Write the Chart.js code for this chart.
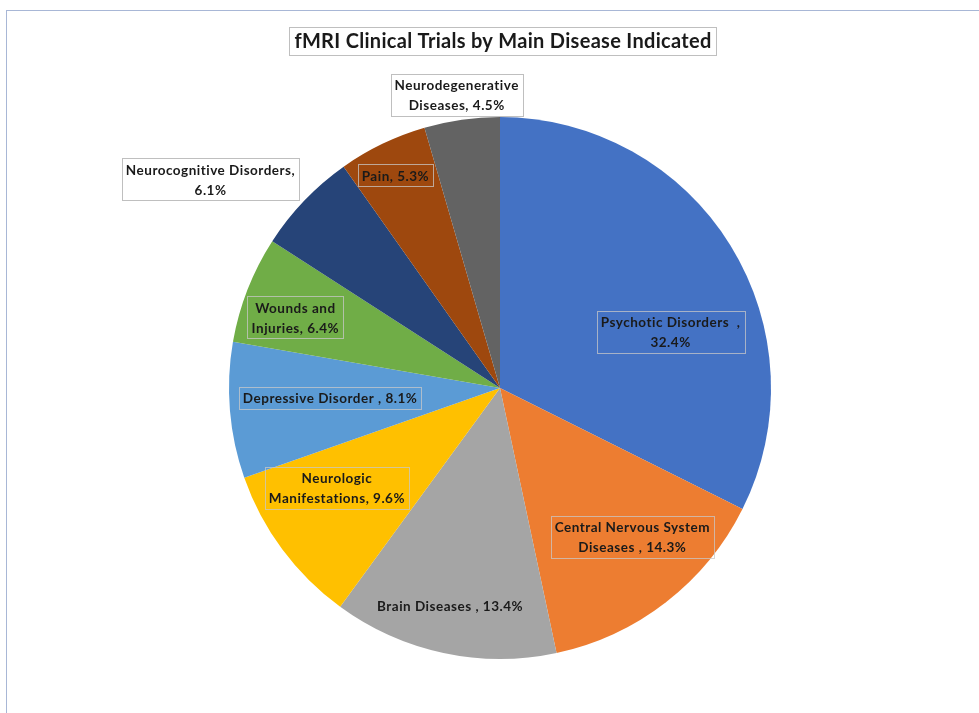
<!DOCTYPE html>
<html>
<head>
<meta charset="utf-8">
<script src="https://cdn.jsdelivr.net/npm/chart.js@4/dist/chart.umd.min.js"></script>
<style>
  html, body { margin: 0; padding: 0; background: #fff; overflow: hidden; }
  .frame { position: absolute; left: 6px; top: 10px; width: 1000px; height: 720px;
           border-left: 1px solid #a8b7d6; border-top: 1px solid #a8b7d6; }
  #wrap { position: absolute; left: 0; top: 0; width: 979px; height: 713px; }
</style>
</head>
<body>
<div class="frame"></div>
<div id="wrap"><canvas id="pieChart" width="979" height="713"></canvas></div>
<script>
// categories and values (%), clockwise from 12 o'clock
var categories = ['Psychotic Disorders  ', 'Central Nervous System Diseases ', 'Brain Diseases ',
                  'Neurologic Manifestations', 'Depressive Disorder ', 'Wounds and Injuries',
                  'Neurocognitive Disorders', 'Pain', 'Neurodegenerative Diseases'];
var values = [32.4, 14.3, 13.4, 9.6, 8.1, 6.4, 6.1, 5.3, 4.5];
var colors = ['#4472C4', '#ED7D31', '#A5A5A5', '#FFC000', '#5B9BD5', '#70AD47', '#264478', '#9E480E', '#636363'];

var titleText = 'fMRI Clinical Trials by Main Disease Indicated';

// label placement: [radius fraction, angle deg clockwise from top, wrap width, fill]
var labelPos = [
  [0.663, 71.7, 165, null],
  [0.734, 138.3, 180, null],
  [0.825, 192.9, 300, null],
  [0.705, 238.6, 160, null],
  [0.628, 266.8, 300, null],
  [0.799, 289.1, 100, null],
  [1.317, 305.8, 195, '#fff'],
  [0.874, 333.8, 200, null],
  [1.093, 351.6, 145, '#fff']
];
var noBox = [false, false, true, false, false, false, false, false, false];

var FONT = 'Lato, "Liberation Sans", sans-serif';

function wrapText(ctx, text, maxW) {
  var words = text.split(' ');
  var lines = [], cur = '';
  for (var i = 0; i < words.length; i++) {
    var test = cur === '' ? words[i] : cur + ' ' + words[i];
    if (cur !== '' && words[i] !== '' && words[i] !== ',' && ctx.measureText(test).width > maxW) {
      lines.push(cur);
      cur = words[i];
    } else {
      cur = test;
    }
  }
  lines.push(cur);
  return lines;
}

var labelPlugin = {
  id: 'sliceLabels',
  afterDraw: function (chart) {
    var ctx = chart.ctx;
    var meta = chart.getDatasetMeta(0);
    var first = meta.data[0];
    var cx = first.x, cy = first.y, r = first.outerRadius;

    // title
    ctx.save();
    ctx.font = 'bold 20px ' + FONT;
    ctx.letterSpacing = '0.3px';
    ctx.textAlign = 'center';
    ctx.textBaseline = 'middle';
    var tw = ctx.measureText(titleText).width;
    var ty = 41;
    var tx = Math.round(cx + 3 - tw / 2 - 5);
    ctx.fillStyle = '#fff';
    ctx.fillRect(tx, ty - 14, Math.round(tw + 10), 28);
    ctx.strokeStyle = '#bfbfbf';
    ctx.lineWidth = 1;
    ctx.strokeRect(tx + 0.5, ty - 14 + 0.5, Math.round(tw + 10), 28);
    ctx.fillStyle = '#1a1a1a';
    ctx.fillText(titleText, cx + 3, ty + 1);
    ctx.restore();

    ctx.save();
    ctx.font = 'bold 13.5px ' + FONT;
    ctx.letterSpacing = '0.5px';
    ctx.textAlign = 'center';
    ctx.textBaseline = 'middle';
    var lineH = 20;
    for (var i = 0; i < meta.data.length; i++) {
      var p = labelPos[i];
      var ang = p[1] * Math.PI / 180;
      var x = cx + r * p[0] * Math.sin(ang);
      var y = cy - r * p[0] * Math.cos(ang);
      var text = categories[i] + ', ' + values[i].toFixed(1) + '%';
      var lines = wrapText(ctx, text, p[2]);
      var w = 0;
      lines.forEach(function (l) { w = Math.max(w, ctx.measureText(l).width); });
      var bw = Math.round(w + 8), bh = lines.length * lineH + 2;
      var bx = Math.round(x - bw / 2) + 0.5, by = Math.round(y - bh / 2) + 0.5;
      if (!noBox[i]) {
        if (p[3]) { ctx.fillStyle = p[3]; ctx.fillRect(bx, by, bw, bh); }
        ctx.strokeStyle = p[3] ? '#bfbfbf' : 'rgba(200,200,200,0.75)';
        ctx.lineWidth = 1;
        ctx.strokeRect(bx, by, bw, bh);
      }
      ctx.fillStyle = '#1a1a1a';
      for (var j = 0; j < lines.length; j++) {
        ctx.fillText(lines[j], x, y - (lines.length - 1) * lineH / 2 + j * lineH + 1);
      }
    }
    ctx.restore();
  }
};

var pieChartCanvas = document.getElementById('pieChart');
var pieChart = new Chart(pieChartCanvas, {
  type: 'pie',
  data: {
    labels: categories,
    datasets: [{
      data: values,
      backgroundColor: colors,
      borderWidth: 0
    }]
  },
  options: {
    responsive: false,
    animation: false,
    layout: { padding: { left: 229, right: 208, top: 117, bottom: 54 } },
    plugins: {
      legend: { display: false },
      title: { display: false },
      tooltip: { enabled: false }
    }
  },
  plugins: [labelPlugin]
});
</script>
</body>
</html>
